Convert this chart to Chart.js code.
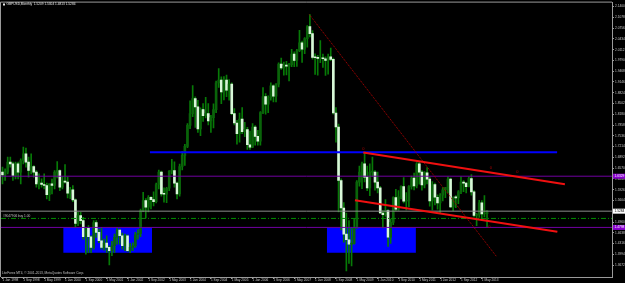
<!DOCTYPE html>
<html>
<head>
<meta charset="utf-8">
<script src="https://cdn.jsdelivr.net/npm/chart.js@4.4.0/dist/chart.umd.min.js"></script>
<style>
html, body { margin: 0; padding: 0; background: #000; }
#wrap { width: 625px; height: 283px; }
</style>
</head>
<body>
<div id="wrap"><canvas id="gbpusd"></canvas></div>
<script>
// GBPUSD monthly, Jan 1998 .. Jul 2013
var opens = [
  1.645,1.637,1.645,1.675,1.670,1.635,1.670,1.645,1.680,1.700,1.675,1.650,
  1.662,1.645,1.610,1.612,1.608,1.605,1.578,1.610,1.605,1.645,1.650,1.600,
  1.618,1.615,1.582,1.592,1.562,1.492,1.515,1.500,1.452,1.478,1.452,1.420,
  1.494,1.465,1.440,1.420,1.433,1.420,1.410,1.425,1.450,1.472,1.455,1.425,
  1.455,1.410,1.420,1.425,1.458,1.462,1.530,1.560,1.540,1.570,1.563,1.557,
  1.608,1.645,1.580,1.579,1.597,1.648,1.650,1.612,1.580,1.662,1.695,1.722,
  1.785,1.820,1.865,1.840,1.774,1.832,1.814,1.820,1.798,1.808,1.832,1.912,
  1.920,1.885,1.920,1.890,1.908,1.820,1.792,1.760,1.804,1.766,1.772,1.727,
  1.720,1.780,1.752,1.738,1.823,1.871,1.848,1.868,1.903,1.872,1.908,1.968,
  1.957,1.963,1.962,1.966,1.998,1.979,2.008,2.032,2.013,2.044,2.080,2.059,
  1.988,1.987,1.985,1.985,1.984,1.979,1.990,1.982,1.822,1.780,1.620,1.538,
  1.460,1.443,1.430,1.432,1.480,1.615,1.645,1.670,1.630,1.598,1.645,1.645,
  1.615,1.598,1.523,1.518,1.530,1.451,1.495,1.569,1.534,1.571,1.602,1.558,
  1.560,1.602,1.627,1.604,1.670,1.645,1.607,1.643,1.624,1.559,1.608,1.570,
  1.553,1.576,1.592,1.599,1.624,1.541,1.570,1.568,1.586,1.615,1.612,1.602,
  1.626,1.586,1.516,1.519,1.553,1.520,1.5209
];
var highs = [
  1.660,1.655,1.690,1.690,1.675,1.675,1.675,1.685,1.720,1.717,1.690,1.700,
  1.665,1.650,1.640,1.625,1.640,1.612,1.610,1.624,1.650,1.677,1.652,1.632,
  1.668,1.630,1.600,1.605,1.565,1.525,1.525,1.510,1.478,1.485,1.455,1.500,
  1.500,1.475,1.480,1.445,1.455,1.425,1.438,1.460,1.480,1.475,1.463,1.460,
  1.458,1.432,1.434,1.465,1.473,1.535,1.585,1.566,1.575,1.572,1.586,1.612,
  1.651,1.648,1.598,1.600,1.650,1.683,1.676,1.615,1.669,1.707,1.728,1.790,
  1.858,1.904,1.870,1.860,1.837,1.850,1.869,1.850,1.815,1.849,1.917,1.955,
  1.930,1.931,1.935,1.922,1.912,1.835,1.800,1.822,1.838,1.794,1.779,1.768,
  1.790,1.784,1.770,1.826,1.898,1.880,1.873,1.912,1.906,1.910,1.972,1.986,
  1.974,1.976,1.970,2.012,2.005,2.012,2.069,2.037,2.047,2.083,2.116,2.068,
  1.999,1.994,2.038,1.998,1.990,1.998,2.016,1.986,1.838,1.789,1.625,1.554,
  1.523,1.500,1.480,1.505,1.620,1.663,1.675,1.701,1.663,1.670,1.690,1.650,
  1.645,1.603,1.530,1.563,1.533,1.505,1.571,1.594,1.590,1.604,1.629,1.584,
  1.605,1.633,1.642,1.674,1.676,1.650,1.647,1.659,1.631,1.617,1.612,1.577,
  1.581,1.599,1.600,1.631,1.627,1.571,1.575,1.590,1.631,1.620,1.614,1.631,
  1.638,1.590,1.522,1.561,1.560,1.575,1.5304
];
var lows = [
  1.610,1.620,1.640,1.660,1.620,1.625,1.625,1.610,1.670,1.660,1.630,1.640,
  1.630,1.600,1.595,1.600,1.595,1.565,1.560,1.580,1.595,1.628,1.590,1.595,
  1.612,1.568,1.566,1.557,1.479,1.485,1.490,1.445,1.400,1.404,1.404,1.415,
  1.450,1.434,1.415,1.412,1.405,1.368,1.395,1.405,1.430,1.430,1.415,1.410,
  1.408,1.404,1.410,1.420,1.445,1.452,1.527,1.508,1.526,1.535,1.544,1.553,
  1.595,1.573,1.555,1.554,1.590,1.640,1.600,1.565,1.573,1.652,1.665,1.718,
  1.775,1.811,1.779,1.764,1.754,1.797,1.807,1.786,1.764,1.777,1.823,1.898,
  1.850,1.861,1.871,1.860,1.817,1.786,1.729,1.735,1.760,1.751,1.713,1.713,
  1.718,1.726,1.726,1.726,1.820,1.818,1.823,1.860,1.855,1.855,1.900,1.952,
  1.935,1.936,1.918,1.960,1.960,1.961,2.005,1.973,1.999,2.019,2.049,1.983,
  1.937,1.935,1.972,1.958,1.934,1.938,1.978,1.818,1.735,1.526,1.472,1.436,
  1.350,1.372,1.365,1.430,1.477,1.603,1.596,1.616,1.590,1.575,1.632,1.591,
  1.583,1.521,1.478,1.513,1.423,1.432,1.488,1.530,1.531,1.565,1.553,1.532,
  1.542,1.594,1.592,1.598,1.609,1.591,1.598,1.610,1.543,1.532,1.547,1.534,
  1.523,1.559,1.569,1.583,1.539,1.530,1.539,1.551,1.581,1.587,1.583,1.601,
  1.576,1.511,1.485,1.510,1.501,1.511,1.4813
];
var closes = [
  1.637,1.645,1.675,1.670,1.635,1.670,1.645,1.680,1.700,1.675,1.650,1.662,
  1.645,1.610,1.612,1.608,1.605,1.578,1.610,1.605,1.645,1.650,1.600,1.618,
  1.615,1.582,1.592,1.562,1.492,1.515,1.500,1.452,1.478,1.452,1.420,1.494,
  1.465,1.440,1.420,1.433,1.420,1.410,1.425,1.450,1.472,1.455,1.425,1.455,
  1.410,1.420,1.425,1.458,1.462,1.530,1.560,1.540,1.570,1.563,1.557,1.608,
  1.645,1.580,1.579,1.597,1.648,1.650,1.612,1.580,1.662,1.695,1.722,1.785,
  1.820,1.865,1.840,1.774,1.832,1.814,1.820,1.798,1.808,1.832,1.912,1.920,
  1.885,1.920,1.890,1.908,1.820,1.792,1.760,1.804,1.766,1.772,1.727,1.720,
  1.780,1.752,1.738,1.823,1.871,1.848,1.868,1.903,1.872,1.908,1.968,1.957,
  1.963,1.962,1.966,1.998,1.979,2.008,2.032,2.013,2.044,2.080,2.059,1.988,
  1.987,1.985,1.985,1.984,1.979,1.990,1.982,1.822,1.780,1.620,1.538,1.460,
  1.443,1.430,1.432,1.480,1.615,1.645,1.670,1.630,1.598,1.645,1.645,1.615,
  1.598,1.523,1.518,1.530,1.451,1.495,1.569,1.534,1.571,1.602,1.558,1.560,
  1.602,1.627,1.604,1.670,1.645,1.607,1.643,1.624,1.559,1.608,1.570,1.553,
  1.576,1.592,1.599,1.624,1.541,1.570,1.568,1.586,1.615,1.612,1.602,1.626,
  1.586,1.516,1.519,1.553,1.520,1.521,1.5284
];

// time axis labels, one every 8 bars
var xTickLabels = ['1 Jan 1998','1 Sep 1998','1 May 1999','1 Jan 2000','1 Sep 2000','1 May 2001',
  '1 Jan 2002','1 Sep 2002','1 May 2003','1 Jan 2004','1 Sep 2004','1 May 2005','1 Jan 2006',
  '1 Sep 2006','1 May 2007','1 Jan 2008','1 Sep 2008','1 May 2009','1 Jan 2010','1 Sep 2010',
  '1 May 2011','1 Jan 2012','1 Sep 2012','1 May 2013'];
var yTickVals = [2.1400,2.1078,2.0756,2.0434,2.0112,1.9790,1.9468,1.9146,1.8824,1.8502,1.8180,
  1.7858,1.7536,1.7214,1.6892,1.6570,1.6248,1.5926,1.5604,1.5282,1.4960,1.4638,1.4316,1.3994,1.3672];

// objects drawn on the chart (bar index, price)
var bidPrice = 1.5284;
var orderPrice = 1.5067;
var purpleLevels = [1.6329, 1.4798];
var blueLevel = {from: 56.6, to: 212.9, price: 1.7044};
var zones = [[23.3, 57.4, 1.4798, 1.4041], [124.5, 158.7, 1.4798, 1.4041]];
var channelTop = [[138.5, 1.7036], [215.9, 1.6090]];
var channelBottom = [[135.3, 1.5613], [213.0, 1.4667]];
var fallLine = [[117.8, 2.1161], [189.7, 1.3921]];
var zeroMarks = [[138.5, 1.7155], [187.5, 1.6576], [197.6, 1.6457], [186.9, 1.4807]];

var headerText = 'GBPUSD,Monthly  1.5209 1.5304 1.4813 1.5284';
var copyright = 'LiteForex MT4, \u00a9 2001-2013, MetaQuotes Software Corp.';
var orderText = '#9047906 buy 1.00';

var xMin = -0.576, xMax = 233.97;
var yMin = 1.3316, yMax = 2.1519;
var axisColor = '#9a9a9a';
var tickFont = {family: 'Liberation Sans', size: 3.2, lineHeight: 1};

function seg(p0, p1, color, width, dash, order) {
  return {
    type: 'line',
    data: [{x: p0[0], y: p0[1]}, {x: p1[0], y: p1[1]}],
    borderColor: color, borderWidth: width, borderDash: dash || [],
    pointRadius: 0, fill: false, order: order
  };
}

var datasets = [];
zones.forEach(function (z) {
  datasets.push({
    type: 'line',
    data: [{x: z[0], y: z[2]}, {x: z[1], y: z[2]}],
    borderWidth: 0, pointRadius: 0,
    backgroundColor: '#0000ff',
    fill: {value: z[3]},
    order: 10
  });
});
datasets.push({
  type: 'bar',
  data: opens.map(function (o, i) { return {x: i, y: [lows[i], highs[i]]}; }),
  backgroundColor: '#077a07',
  barThickness: 1, grouped: false, order: 5
});
datasets.push({
  type: 'bar',
  data: opens.map(function (o, i) { return {x: i, y: [opens[i], closes[i]]}; }),
  backgroundColor: opens.map(function (o, i) { return closes[i] >= o ? '#0a640a' : '#d8f8d8'; }),
  barThickness: 2, minBarLength: 1, grouped: false, order: 4
});
purpleLevels.forEach(function (p) {
  datasets.push(seg([xMin, p], [xMax, p], '#7000a0', 1, null, 3));
});
datasets.push(seg([xMin, bidPrice], [xMax, bidPrice], '#8c8c8c', 1, null, 3));
datasets.push(seg([xMin, orderPrice], [xMax, orderPrice], '#009000', 1, [5, 2, 1, 2], 3));
datasets.push(seg([blueLevel.from, blueLevel.price], [blueLevel.to, blueLevel.price], '#0000ff', 2, null, 2));
datasets.push(seg(channelTop[0], channelTop[1], '#f01010', 2, null, 1));
datasets.push(seg(channelBottom[0], channelBottom[1], '#f01010', 2, null, 1));
datasets.push(seg(fallLine[0], fallLine[1], '#b80000', 1, [1, 1], 1));

var decor = {
  id: 'decor',
  afterDraw: function (chart) {
    var ctx = chart.ctx, a = chart.chartArea, x = chart.scales.x, y = chart.scales.y;
    ctx.save();
    ctx.strokeStyle = axisColor;
    ctx.lineWidth = 1;
    ctx.beginPath();
    ctx.moveTo(a.left - 0.5, a.bottom);
    ctx.lineTo(a.left - 0.5, a.top - 0.5);
    ctx.lineTo(a.right, a.top - 0.5);
    ctx.stroke();

    ctx.font = '3.2px "Liberation Sans"';
    ctx.textBaseline = 'middle';
    ctx.textAlign = 'left';
    ctx.fillStyle = '#e8e8e8';
    ctx.fillRect(3, 3.5, 2, 2);
    ctx.fillText(headerText, 6.5, 4.5);
    ctx.fillStyle = '#c0c0c0';
    ctx.fillText(copyright, 2, 273);
    ctx.fillText(orderText, 3, y.getPixelForValue(orderPrice) - 2);

    ctx.fillStyle = '#b00000';
    ctx.textAlign = 'center';
    ctx.font = '4px "Liberation Sans"';
    zeroMarks.forEach(function (m) {
      ctx.fillText('0', x.getPixelForValue(m[0]), y.getPixelForValue(m[1]));
    });

    ctx.textAlign = 'left';
    ctx.font = '3.2px "Liberation Sans"';
    var boxes = [{v: purpleLevels[0], bg: '#8a00d0', fg: '#ffffff'},
                 {v: bidPrice, bg: '#ffffff', fg: '#000000'},
                 {v: purpleLevels[1], bg: '#8a00d0', fg: '#ffffff'}];
    boxes.forEach(function (b) {
      var py = y.getPixelForValue(b.v);
      ctx.fillStyle = b.bg;
      ctx.fillRect(a.right + 1, py - 2.5, 12, 5);
      ctx.fillStyle = b.fg;
      ctx.fillText(b.v.toFixed(4), a.right + 2.5, py);
    });
    ctx.restore();
  }
};

new Chart(document.getElementById('gbpusd'), {
  type: 'bar',
  data: {datasets: datasets},
  plugins: [decor],
  options: {
    responsive: true,
    maintainAspectRatio: false,
    animation: false,
    layout: {padding: {top: 2, left: 1, right: 0, bottom: 0}},
    plugins: {legend: {display: false}, tooltip: {enabled: false}},
    scales: {
      x: {
        type: 'linear', min: xMin, max: xMax, offset: false,
        grid: {drawOnChartArea: false, tickLength: 2, color: axisColor, offset: false},
        border: {color: axisColor},
        ticks: {
          autoSkip: false, maxRotation: 0, minRotation: 0, align: 'start', padding: 0,
          color: '#c8c8c8', font: tickFont,
          callback: function (v, i) { return xTickLabels[i]; }
        },
        afterBuildTicks: function (s) {
          s.ticks = xTickLabels.map(function (l, k) { return {value: k * 8}; });
        },
        afterFit: function (s) { s.height = 6; }
      },
      y: {
        type: 'linear', position: 'right', min: yMin, max: yMax, beginAtZero: false,
        grid: {drawOnChartArea: false, tickLength: 2, color: axisColor},
        border: {color: axisColor},
        ticks: {
          autoSkip: false, padding: 1, color: '#c8c8c8', font: tickFont,
          callback: function (v) { return v.toFixed(4); }
        },
        afterBuildTicks: function (s) {
          s.ticks = yTickVals.map(function (v) { return {value: v}; });
        },
        afterFit: function (s) { s.width = 13; }
      }
    }
  }
});
</script>
</body>
</html>
